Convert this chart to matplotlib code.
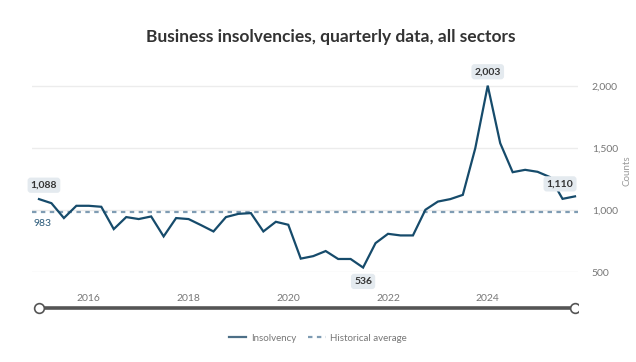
import numpy as np
import matplotlib.pyplot as plt

# quarterly business insolvencies, 2015 Q1 .. 2025 Q4
years = list(range(2015, 2026))
counts = [
    1088, 1055, 935, 1034,   # 2015
    1034, 1026, 846, 943,    # 2016
    927, 948, 787, 935,      # 2017
    927, 878, 827, 943,      # 2018
    969, 975, 827, 905,      # 2019
    881, 608, 628, 669,      # 2020
    605, 605, 536, 733,      # 2021
    808, 795, 795, 1002,     # 2022
    1068, 1088, 1122, 1498,  # 2023
    2003, 1539, 1305, 1324,  # 2024
    1308, 1265, 1090, 1110,  # 2025
]
hist_avg = 983
xtick_years = [2016, 2018, 2020, 2022, 2024]
ytick_vals = [500, 1000, 1500, 2000]

LINE = "#164b6b"
AVG = "#7f9cb3"
GRAY = "#777777"


def quarter_x(n):
    """Fractional year for each quarter start."""
    return np.array([years[0] + i / 4 for i in range(n)])


def label_box(ax, x, y, text, dy):
    ax.annotate(text, (x, y), xytext=(0, dy), textcoords="offset points",
                ha="center", va="center", fontsize=7.5, fontweight="bold",
                color="#333333", family="Lato",
                bbox=dict(boxstyle="round,pad=0.3", fc="#e4eaef", ec="none"))


def main():
    x = quarter_x(len(counts))
    fig = plt.figure(figsize=(6.36, 3.62), dpi=100)
    ax = fig.add_axes([0.0503, 0.2486, 0.8585, 0.558])

    line, = ax.plot(x, counts, color=LINE, lw=1.6, label="Insolvency",
                    solid_joinstyle="miter", zorder=3)
    avg = ax.axhline(hist_avg, color=AVG, lw=1.6, ls=(0, (2, 2)),
                     label="Historical average", zorder=2)

    ax.set_xlim(x[0] - 0.14, x[-1] + 0.06)
    ax.set_ylim(500, 2129)
    ax.set_xticks(xtick_years)
    ax.set_xticklabels([str(y) for y in xtick_years])
    ax.set_yticks(ytick_vals)
    ax.set_yticklabels([f"{v:,}" for v in ytick_vals])
    ax.yaxis.tick_right()
    ax.yaxis.set_label_position("right")
    ax.set_ylabel("Counts", fontsize=7, color="#999999", labelpad=3,
                  family="Lato")
    ax.tick_params(length=0, labelsize=7.5, labelcolor=GRAY)
    ax.tick_params(axis="x", pad=16)
    ax.tick_params(axis="y", pad=10)
    for lab in ax.get_xticklabels() + ax.get_yticklabels():
        lab.set_family("Lato")
    for s in ax.spines.values():
        s.set_visible(False)
    ax.grid(axis="y", color="#ececec", lw=1)
    ax.set_axisbelow(True)

    # value labels
    i_max = int(np.argmax(counts))
    i_min = int(np.argmin(counts))
    label_box(ax, x[0] + 0.1, counts[0], f"{counts[0]:,}", 10)
    label_box(ax, x[i_max], counts[i_max], f"{counts[i_max]:,}", 10)
    label_box(ax, x[i_min], counts[i_min], f"{counts[i_min]:,}", -10)
    label_box(ax, x[-1] - 0.3, counts[-1], f"{counts[-1]:,}", 9)
    ax.annotate(f"{hist_avg}", (x[0] - 0.14, hist_avg), xytext=(1, -8),
                textcoords="offset points", ha="left", va="center",
                fontsize=7.5, color="#2b5a7a", family="Lato")

    fig.suptitle("Business insolvencies, quarterly data, all sectors",
                 x=0.52, y=0.92, fontsize=12.5, fontweight="bold",
                 color="#333333", family="Lato")

    # range slider below the chart
    sl = fig.add_axes([0.0503, 0.13, 0.8585, 0.04])
    sl.set_xlim(ax.get_xlim())
    sl.set_ylim(-1, 1)
    sl.plot([x[0], x[-1]], [0, 0], color="#555555", lw=2.6, zorder=1)
    sl.plot([x[0], x[-1]], [0, 0], ls="none", marker="o", ms=7,
            mfc="white", mec="#555555", mew=1.2, zorder=2)
    sl.axis("off")

    leg = fig.legend(handles=[line, avg], loc="center", ncol=2,
                     bbox_to_anchor=(0.5, 0.066), frameon=False,
                     handlelength=1.8, columnspacing=1.2, handletextpad=0.5,
                     prop={"family": "Lato", "size": 7})
    for t in leg.get_texts():
        t.set_color(GRAY)
    leg.legend_handles[0].set_color("#4d6f87")

    fig.savefig("out.png", dpi=100)


if __name__ == "__main__":
    main()
